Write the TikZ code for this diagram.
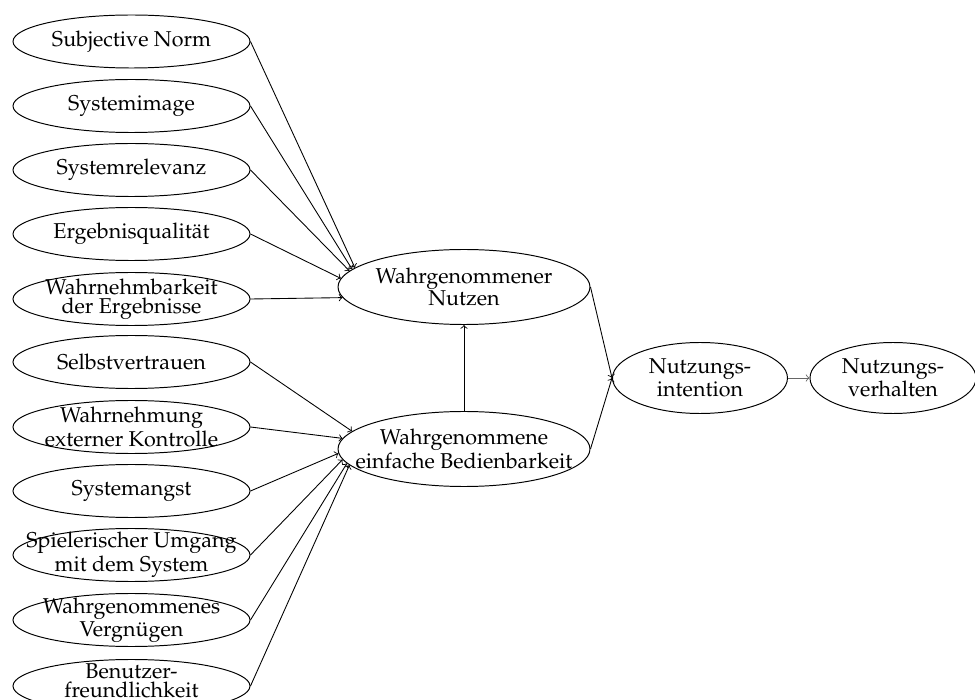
\documentclass[tikz,border=0pt]{standalone}
\usepackage[T1]{fontenc}
\usepackage{mathpazo}
\usetikzlibrary{shapes.geometric}
\newcommand{\txtfont}{\fontsize{11}{9.5}\selectfont}
\begin{document}
\begin{tikzpicture}[x=0.18mm,y=-0.18mm,
  ell/.style={ellipse,draw,line width=0.5pt,inner sep=0pt},
  small/.style={ell,minimum width={237*0.18mm},minimum height={53*0.18mm}},
  big/.style={ell,minimum width={252*0.18mm},minimum height={75*0.18mm}},
  mid/.style={ell,minimum width={175*0.18mm},minimum height={71*0.18mm}},
  lbl/.style={align=center,font=\txtfont,inner sep=0pt},
  arr/.style={->,line width=0.45pt}]
\useasboundingbox (0,0) rectangle (975,700);
\clip (0,0) rectangle (975,700);

% left column
\node[small] (sn) at (131.5,41.5) {};
\node[small] (si) at (131.5,106) {};
\node[small] (sr) at (131.5,170) {};
\node[small] (eq) at (131.5,234) {};
\node[small] (we) at (131.5,299) {};
\node[small] (sv) at (131.5,362) {};
\node[small] (wk) at (131.5,427) {};
\node[small] (sa) at (131.5,491) {};
\node[small] (su) at (131.5,555) {};
\node[small] (wv) at (131.5,620) {};
\node[small] (bf) at (131.5,686) {};

\node[lbl] (snt) at (sn) {Subjective Norm};
\node[lbl] (sit) at (si) {Systemimage};
\node[lbl] (srt) at (sr) {Systemrelevanz};
\node[lbl] (eqt) at (eq) {Ergebnisqualität};
\node[lbl] (wet) at (we) {Wahrnehmbarkeit\\der Ergebnisse};
\node[lbl] (svt) at (sv) {Selbstvertrauen};
\node[lbl] (wkt) at (wk) {Wahrnehmung\\externer Kontrolle};
\node[lbl] (sat) at (sa) {Systemangst};
\node[lbl] (sut) at (su) {Spielerischer Umgang\\mit dem System};
\node[lbl] (wvt) at (wv) {Wahrgenommenes\\Vergnügen};
\node[lbl] (bft) at (131.5,681) {Benutzer-\\freundlichkeit};

% middle
\node[big] (nu) at (464,287) {};
\node[big] (be) at (464,449) {};
\node[lbl] (nut) at (nu) {Wahrgenommener\\Nutzen};
\node[lbl] (bet) at (be) {Wahrgenommene\\einfache Bedienbarkeit};

% right
\node[mid] (in) at (700,378) {};
\node[ell,minimum width={166*0.18mm},minimum height={71*0.18mm}] (ve) at (893,378) {};
\node[lbl] (int) at (in) {Nutzungs-\\intention};
\node[lbl] (vet) at (ve) {Nutzungs-\\verhalten};

% connectors to Nutzen
\draw[arr] (sn.east) -- (nu.170);
\draw[arr] (si.east) -- (nu.171);
\draw[arr] (sr.east) -- (nu.172);
\draw[arr] (eq.east) -- (nu.176);
\draw[arr] (we.east) -- (nu.185);

% connectors to Bedienbarkeit
\draw[arr] (sv.east) -- (be.171);
\draw[arr] (wk.east) -- (be.175);
\draw[arr] (sa.east) -- (be.182);
\draw[arr] (su.east) -- (be.185);
\draw[arr] (wv.east) -- (be.187);
\draw[arr] (bf.east) -- (be.188);

\draw[arr] (be.north) -- (nu.south);
\draw[arr] (nu.east) -- (in.west);
\draw[arr] (be.east) -- (in.west);
\draw[arr,black!60] (in.east) -- (ve.west);
\end{tikzpicture}
\end{document}
